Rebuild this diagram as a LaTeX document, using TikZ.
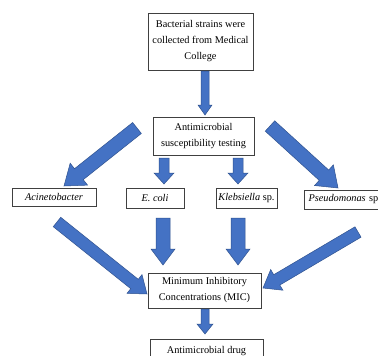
\documentclass[tikz,border=0pt]{standalone}
\usepackage{fontspec}
\setmainfont{Liberation Serif}
\usetikzlibrary{calc}
\definecolor{arrfill}{HTML}{4472C4}
\definecolor{arrline}{HTML}{2F528F}
\tikzset{
  box/.style={draw=black!75, line width=0.6pt, fill=white, align=center, inner sep=0pt,
    font=\fontsize{10.3pt}{16pt}\selectfont},
  barrow/.style={fill=arrfill, draw=arrline, line width=0.5pt, line join=miter},
}
% #1 from, #2 to, #3 half shaft, #4 half head, #5 head length
\newcommand\blockarr[5]{%
  \coordinate (ba-base) at ($(#2)!#5!(#1)$);
  \draw[barrow] ($(#1)!#3!90:(#2)$) -- ($(ba-base)!#3!90:(#2)$) -- ($(ba-base)!#4!90:(#2)$)
    -- (#2) -- ($(ba-base)!#4!-90:(#2)$) -- ($(ba-base)!#3!-90:(#2)$) -- ($(#1)!#3!-90:(#2)$) -- cycle;}
\begin{document}
\begin{tikzpicture}[x=1pt,y=-1pt]
\useasboundingbox (0,0) rectangle (378,356);
\fill[white] (0,0) rectangle (378,356);
% nodes
\node[box, minimum width=105pt, minimum height=57pt] (top) at (200.5,41.5)
  {Bacterial strains were\\collected from Medical\\College};
\node[box, minimum width=101pt, minimum height=38pt] (ast) at (203.5,136)
  {Antimicrobial\\susceptibility testing};
\node[box, minimum width=84pt, minimum height=18pt] (acin) at (54,197) {\itshape Acinetobacter};
\node[box, minimum width=58pt, minimum height=20pt] (ecoli) at (155,198) {\itshape E. coli};
\node[box, minimum width=61pt, minimum height=20pt] (kleb) at (246.5,198) {\itshape Klebsiella\upshape{} sp.};
\node[box, minimum width=80pt, minimum height=19pt, text width=71pt, align=left] (pseu) at (344,199.5) {\itshape Pseudomonas\upshape{} sp};
\node[box, minimum width=113pt, minimum height=35pt] (mic) at (204.5,290.5)
  {Minimum Inhibitory\\Concentrations (MIC)};
\node[box, anchor=north, minimum width=113pt, text height=9pt, text depth=12pt, inner ysep=5pt] (drug) at (206.5,339)
  {Antimicrobial drug};
% arrow end points
\coordinate (t1) at (205,71);   \coordinate (t2) at (205,115);
\coordinate (l1) at (137,128);  \coordinate (l2) at (64,186);
\coordinate (r1) at (270,126);  \coordinate (r2) at (338,188);
\coordinate (e1) at (164,158);  \coordinate (e2) at (164,184);
\coordinate (k1) at (238,158);  \coordinate (k2) at (238,184);
\coordinate (am1) at (57,222);  \coordinate (am2) at (147,294);
\coordinate (em1) at (163,218); \coordinate (em2) at (163,265);
\coordinate (km1) at (238,218); \coordinate (km2) at (238,265);
\coordinate (pm1) at (358,232); \coordinate (pm2) at (263,288);
\coordinate (d1) at (205,309);  \coordinate (d2) at (205,334);
% arrows
\blockarr{t1}{t2}{4pt}{7pt}{10pt}
\blockarr{l1}{l2}{7pt}{14pt}{19pt}
\blockarr{r1}{r2}{7pt}{14pt}{19pt}
\blockarr{e1}{e2}{5pt}{10pt}{11pt}
\blockarr{k1}{k2}{5pt}{10pt}{11pt}
\blockarr{am1}{am2}{6pt}{12pt}{16pt}
\blockarr{em1}{em2}{7pt}{12pt}{16pt}
\blockarr{km1}{km2}{7pt}{12pt}{16pt}
\blockarr{pm1}{pm2}{6pt}{12pt}{16pt}
\blockarr{d1}{d2}{4pt}{8pt}{10pt}
\end{tikzpicture}
\end{document}
